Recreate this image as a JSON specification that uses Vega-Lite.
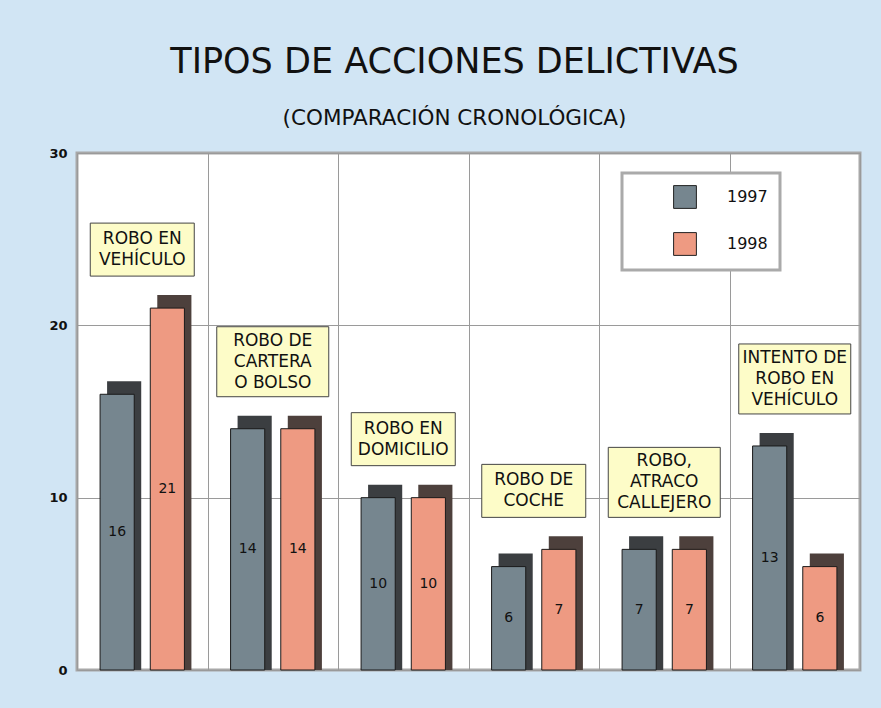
{
  "$schema": "https://vega.github.io/schema/vega-lite/v6.json",
  "width": 783,
  "height": 517,
  "autosize": {"type": "none"},
  "padding": {"left": 77, "top": 153, "right": 21, "bottom": 38},
  "background": "#d1e5f4",
  "title": {
    "text": "TIPOS DE ACCIONES DELICTIVAS",
    "subtitle": "(COMPARACIÓN CRONOLÓGICA)",
    "anchor": "middle",
    "frame": "group",
    "dx": -14,
    "offset": 18,
    "font": "DejaVu Sans",
    "fontSize": 35,
    "fontWeight": "normal",
    "color": "#111111",
    "subtitleFont": "DejaVu Sans",
    "subtitleFontSize": 21.5,
    "subtitleColor": "#111111",
    "subtitlePadding": 28
  },
  "datasets": {
    "bars": [
      {"cat": "Robo en vehículo", "year": "1997", "value": 16},
      {"cat": "Robo en vehículo", "year": "1998", "value": 21},
      {"cat": "Robo de cartera o bolso", "year": "1997", "value": 14},
      {"cat": "Robo de cartera o bolso", "year": "1998", "value": 14},
      {"cat": "Robo en domicilio", "year": "1997", "value": 10},
      {"cat": "Robo en domicilio", "year": "1998", "value": 10},
      {"cat": "Robo de coche", "year": "1997", "value": 6},
      {"cat": "Robo de coche", "year": "1998", "value": 7},
      {"cat": "Robo, atraco callejero", "year": "1997", "value": 7},
      {"cat": "Robo, atraco callejero", "year": "1998", "value": 7},
      {"cat": "Intento de robo en vehículo", "year": "1997", "value": 13},
      {"cat": "Intento de robo en vehículo", "year": "1998", "value": 6}
    ],
    "labels": [
      {"cat": "Robo en vehículo", "label": ["ROBO EN", "VEHÍCULO"]},
      {"cat": "Robo de cartera o bolso", "label": ["ROBO DE", "CARTERA", "O BOLSO"]},
      {"cat": "Robo en domicilio", "label": ["ROBO EN", "DOMICILIO"]},
      {"cat": "Robo de coche", "label": ["ROBO DE", "COCHE"]},
      {"cat": "Robo, atraco callejero", "label": ["ROBO,", "ATRACO", "CALLEJERO"]},
      {"cat": "Intento de robo en vehículo", "label": ["INTENTO DE", "ROBO EN", "VEHÍCULO"]}
    ]
  },
  "data": {"name": "bars"},
  "encoding": {
    "x": {
      "field": "cat",
      "type": "nominal",
      "sort": null,
      "scale": {"paddingInner": 0, "paddingOuter": 0},
      "axis": {
        "title": null,
        "labels": false,
        "ticks": false,
        "domain": false,
        "grid": true,
        "tickBand": "extent",
        "gridColor": "#9a9a9a",
        "gridWidth": 1
      }
    }
  },
  "layer": [
    {
      "mark": {"type": "bar", "yOffset": -13, "y2Offset": 0},
      "encoding": {
        "xOffset": {
          "field": "year",
          "type": "nominal",
          "scale": {"type": "band", "range": [7, 137.5], "paddingInner": 0.32, "paddingOuter": 0.46}
        },
        "y": {
          "field": "value",
          "type": "quantitative",
          "scale": {"domain": [0, 30], "nice": false},
          "axis": {
            "values": [0, 10, 20, 30],
            "title": null,
            "domain": false,
            "ticks": false,
            "labelFont": "DejaVu Sans",
            "labelFontWeight": "bold",
            "labelFontSize": 13,
            "labelColor": "#111111",
            "labelPadding": 10,
            "gridColor": "#9a9a9a",
            "gridWidth": 1
          }
        },
        "y2": {"datum": 0},
        "fill": {
          "condition": {"test": "datum.year === '1997'", "value": "#3b3e41"},
          "value": "#4d403c"
        }
      }
    },
    {
      "mark": {"type": "bar", "stroke": "#1a1a1a", "strokeWidth": 1},
      "encoding": {
        "xOffset": {
          "field": "year",
          "type": "nominal",
          "scale": {"type": "band", "range": [0, 130.5], "paddingInner": 0.32, "paddingOuter": 0.46}
        },
        "y": {"field": "value", "type": "quantitative"},
        "fill": {
          "field": "year",
          "type": "nominal",
          "scale": {"domain": ["1997", "1998"], "range": ["#76868f", "#ee9a82"]},
          "legend": {
            "title": null,
            "orient": "none",
            "legendX": 545,
            "legendY": 20,
            "padding": 12,
            "fillColor": "#ffffff",
            "strokeColor": "#aaaaaa",
            "symbolType": "square",
            "symbolSize": 520,
            "symbolStrokeColor": "#222222",
            "symbolStrokeWidth": 1,
            "symbolOffset": 39,
            "labelFont": "DejaVu Sans",
            "labelFontSize": 16,
            "labelColor": "#111111",
            "labelOffset": 30,
            "rowPadding": 19
          }
        }
      }
    },
    {
      "transform": [{"calculate": "datum.value / 2", "as": "mid"}],
      "mark": {"type": "text", "font": "DejaVu Sans", "fontSize": 14, "color": "#111111"},
      "encoding": {
        "xOffset": {
          "field": "year",
          "type": "nominal",
          "scale": {"type": "band", "range": [0, 130.5], "paddingInner": 0.32, "paddingOuter": 0.46}
        },
        "y": {"field": "mid", "type": "quantitative"},
        "text": {"field": "value", "type": "quantitative"}
      }
    },
    {
      "transform": [
        {"joinaggregate": [{"op": "max", "field": "value", "as": "maxv"}], "groupby": ["cat"]},
        {"filter": "datum.year === '1997'"},
        {"filter": {"field": "cat", "oneOf": ["Robo en vehículo", "Robo en domicilio", "Robo de coche"]}},
        {"lookup": "cat", "from": {"data": {"name": "labels"}, "key": "cat", "fields": ["label"]}}
      ],
      "layer": [
        {
          "mark": {"type": "bar", "width": 104, "yOffset": -85, "y2Offset": -32, "fill": "#fdfcc8", "stroke": "#444444", "strokeWidth": 1},
          "encoding": {
            "y": {"field": "maxv", "type": "quantitative"},
            "y2": {"field": "maxv"}
          }
        },
        {
          "mark": {"type": "text", "yOffset": -69, "font": "DejaVu Sans", "fontSize": 17, "lineHeight": 21, "baseline": "middle", "color": "#111111"},
          "encoding": {
            "y": {"field": "maxv", "type": "quantitative"},
            "text": {"field": "label"}
          }
        }
      ]
    },
    {
      "transform": [
        {"joinaggregate": [{"op": "max", "field": "value", "as": "maxv"}], "groupby": ["cat"]},
        {"filter": "datum.year === '1997'"},
        {"filter": {"field": "cat", "oneOf": ["Robo de cartera o bolso", "Robo, atraco callejero", "Intento de robo en vehículo"]}},
        {"lookup": "cat", "from": {"data": {"name": "labels"}, "key": "cat", "fields": ["label"]}}
      ],
      "layer": [
        {
          "mark": {"type": "bar", "width": 112, "yOffset": -102, "y2Offset": -32, "fill": "#fdfcc8", "stroke": "#444444", "strokeWidth": 1},
          "encoding": {
            "y": {"field": "maxv", "type": "quantitative"},
            "y2": {"field": "maxv"}
          }
        },
        {
          "mark": {"type": "text", "yOffset": -88, "font": "DejaVu Sans", "fontSize": 17, "lineHeight": 21, "baseline": "middle", "color": "#111111"},
          "encoding": {
            "y": {"field": "maxv", "type": "quantitative"},
            "text": {"field": "label"}
          }
        }
      ]
    }
  ],
  "resolve": {"scale": {"xOffset": "independent"}},
  "config": {
    "view": {"stroke": "#a8a8a8", "strokeWidth": 3, "fill": "#ffffff"},
    "legend": {"strokeWidth": 3}
  }
}
